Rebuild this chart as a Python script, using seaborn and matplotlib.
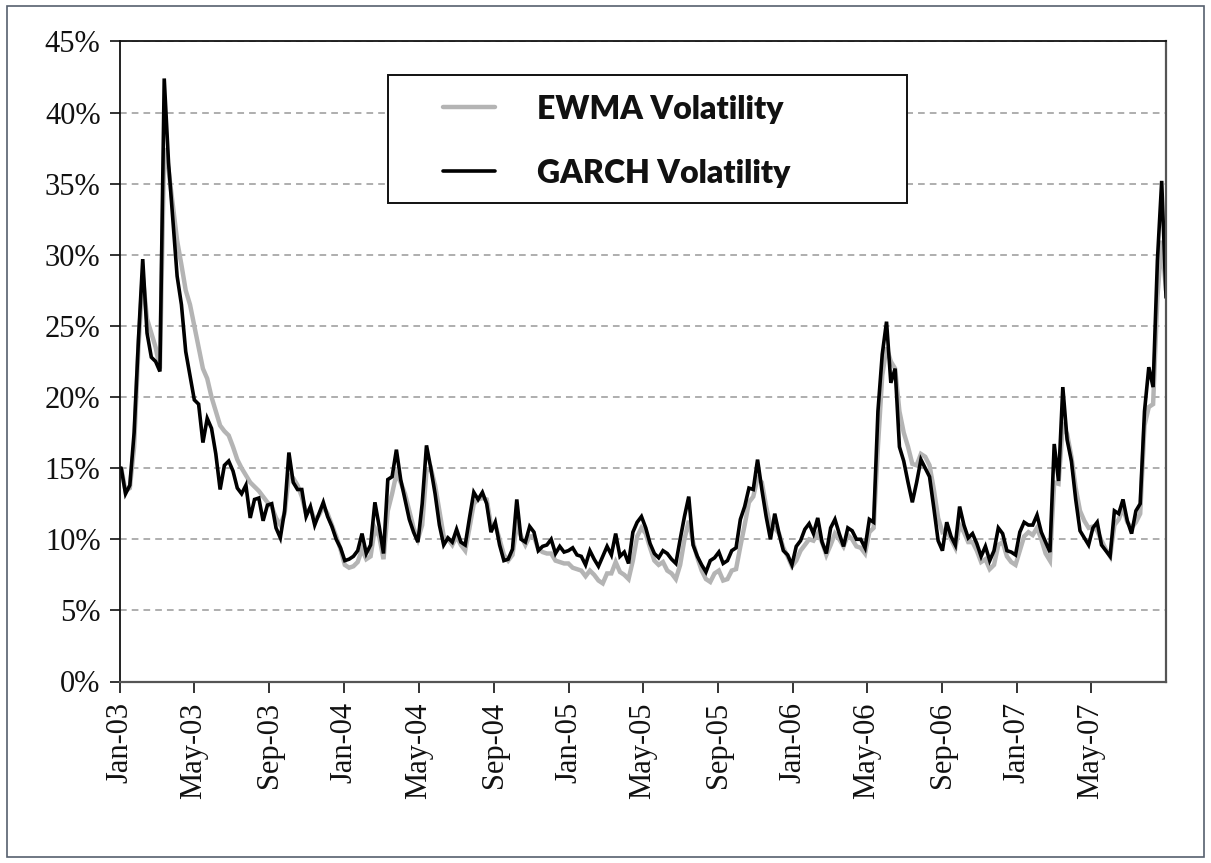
import numpy as np
import pandas as pd
import matplotlib
matplotlib.use("Agg")
import matplotlib.pyplot as plt
import matplotlib.dates as mdates
from matplotlib.ticker import FuncFormatter
from matplotlib.patches import Rectangle
from matplotlib.lines import Line2D
import seaborn as sns

# Weekly (Friday) observations, Jan 2003 - Aug 2007
weeks = pd.date_range("2003-01-03", "2007-08-31", freq="W-FRI")

# Annualised volatility, in percent
ewma_vol = [
    15.0, 13.4, 13.6, 16.5, 23.5, 28.5, 25.5, 24.5, 23.5, 22.0,
    37.5, 36.0, 33.5, 31.0, 29.3, 27.5, 26.5, 25.0, 23.5, 22.0,
    21.3, 20.0, 19.0, 18.0, 17.6, 17.3, 16.5, 15.6, 15.0, 14.5,
    14.0, 13.7, 13.4, 13.0, 12.6, 12.3, 11.5, 11.0, 11.8, 14.5,
    14.3, 13.8, 13.0, 11.8, 12.2, 11.3, 11.7, 12.3, 11.8, 11.0,
    10.2, 9.3, 8.2, 8.0, 8.1, 8.4, 9.3, 8.6, 8.8, 10.8,
    10.2, 8.6, 12.0, 13.2, 14.6, 14.0, 13.2, 12.0, 10.8, 10.0,
    11.0, 14.8, 15.0, 13.8, 12.0, 10.2, 10.0, 9.6, 10.2, 9.6,
    9.2, 10.8, 12.5, 12.8, 12.9, 12.8, 11.0, 11.0, 10.0, 8.9,
    8.5, 8.9, 11.0, 10.2, 9.6, 10.2, 10.2, 9.3, 9.1, 9.0,
    9.0, 8.5, 8.4, 8.3, 8.3, 8.0, 7.9, 7.8, 7.4, 7.8,
    7.5, 7.1, 6.9, 7.6, 7.6, 8.4, 7.7, 7.5, 7.2, 8.5,
    10.2, 10.8, 10.4, 9.4, 8.5, 8.2, 8.4, 7.8, 7.6, 7.2,
    8.2, 10.0, 11.3, 9.8, 8.7, 7.8, 7.2, 7.0, 7.6, 7.8,
    7.1, 7.2, 7.8, 7.9, 9.5, 11.0, 12.6, 13.0, 14.3, 14.0,
    12.3, 10.9, 10.8, 10.4, 9.4, 8.8, 8.1, 8.5, 9.2, 9.6,
    10.0, 9.9, 10.4, 9.8, 8.9, 9.6, 10.4, 10.0, 9.5, 10.3,
    10.0, 9.5, 9.4, 9.0, 10.5, 10.8, 16.5, 21.5, 23.5, 22.5,
    22.0, 19.0, 17.5, 16.5, 15.3, 15.2, 16.0, 15.8, 15.2, 13.5,
    11.5, 10.5, 10.6, 10.0, 9.4, 11.0, 10.5, 9.8, 9.8, 9.2,
    8.4, 8.6, 7.9, 8.2, 9.6, 9.8, 8.8, 8.4, 8.2, 9.2,
    10.2, 10.5, 10.3, 10.8, 10.0, 9.0, 8.5, 14.0, 13.9, 18.0,
    17.4, 15.8, 13.6, 12.0, 11.3, 10.8, 10.9, 10.6, 9.9, 9.3,
    8.8, 11.0, 11.4, 12.2, 11.2, 10.8, 11.2, 11.8, 18.0, 19.3,
    19.5, 27.0, 31.0, 27.5,
]

garch_vol = [
    15.0, 13.2, 13.8, 17.5, 24.0, 29.7, 24.5, 22.8, 22.5, 21.8,
    42.4, 36.5, 32.5, 28.5, 26.5, 23.2, 21.5, 19.8, 19.5, 16.8,
    18.5, 17.8, 16.0, 13.5, 15.2, 15.5, 14.8, 13.6, 13.2, 13.8,
    11.5, 12.8, 12.9, 11.3, 12.4, 12.5, 10.8, 10.1, 12.0, 16.1,
    14.0, 13.5, 13.5, 11.6, 12.3, 11.0, 11.8, 12.6, 11.6, 10.9,
    10.0, 9.4, 8.5, 8.6, 8.8, 9.2, 10.4, 9.0, 9.6, 12.6,
    10.9, 9.0, 14.2, 14.4, 16.3, 14.2, 12.8, 11.4, 10.5, 9.8,
    12.5, 16.6, 15.0, 13.2, 11.0, 9.6, 10.1, 9.8, 10.7, 9.8,
    9.6, 11.5, 13.3, 12.8, 13.3, 12.5, 10.5, 11.2, 9.6, 8.5,
    8.6, 9.3, 12.8, 10.0, 9.8, 10.9, 10.5, 9.2, 9.5, 9.6,
    10.0, 9.0, 9.5, 9.1, 9.2, 9.4, 8.9, 8.8, 8.2, 9.2,
    8.6, 8.1, 8.8, 9.5, 8.9, 10.4, 8.8, 9.1, 8.3, 10.5,
    11.2, 11.6, 10.8, 9.7, 9.0, 8.7, 9.2, 9.0, 8.6, 8.3,
    10.0, 11.6, 13.0, 9.6, 8.8, 8.2, 7.7, 8.5, 8.7, 9.1,
    8.3, 8.5, 9.2, 9.4, 11.4, 12.3, 13.6, 13.5, 15.6, 13.5,
    11.6, 10.0, 11.8, 10.4, 9.2, 8.9, 8.2, 9.5, 9.9, 10.7,
    11.1, 10.4, 11.5, 9.8, 9.0, 10.8, 11.4, 10.4, 9.5, 10.8,
    10.6, 10.0, 10.0, 9.4, 11.4, 11.2, 19.0, 23.0, 25.3, 21.0,
    22.0, 16.5, 15.5, 14.0, 12.6, 14.0, 15.6, 15.0, 14.4, 12.2,
    9.9, 9.2, 11.2, 10.2, 9.6, 12.3, 11.0, 10.1, 10.4, 9.7,
    8.8, 9.5, 8.5, 9.2, 10.8, 10.4, 9.2, 9.1, 8.9, 10.5,
    11.2, 11.0, 11.0, 11.7, 10.5, 9.8, 9.1, 16.7, 14.1, 20.7,
    17.0, 15.5, 12.8, 10.6, 10.1, 9.6, 10.8, 11.2, 9.6, 9.2,
    8.8, 12.0, 11.8, 12.8, 11.3, 10.4, 12.0, 12.5, 19.0, 22.1,
    20.7, 29.6, 35.2, 27.0,
]

series_names = ["EWMA Volatility", "GARCH Volatility"]
series_colors = ["#b4b4b4", "#000000"]
series_widths = [3.2, 2.6]
y_ticks = list(range(0, 50, 5))

sns.set_theme(style="ticks")
plt.rcParams["font.family"] = ["Liberation Serif", "DejaVu Serif"]

df = pd.DataFrame({
    "date": np.tile(weeks, 2),
    "vol": np.concatenate([ewma_vol, garch_vol]),
    "series": np.repeat(series_names, len(weeks)),
})

fig = plt.figure(figsize=(12.11, 8.63), dpi=100)
fig.patch.set_facecolor("white")
ax = fig.add_axes([120 / 1211, 1 - 681.5 / 863, 1046 / 1211, 640 / 863])

for name, color, lw in zip(series_names, series_colors, series_widths):
    sns.lineplot(data=df[df["series"] == name], x="date", y="vol",
                 color=color, linewidth=lw, ax=ax, legend=False,
                 estimator=None, solid_joinstyle="miter")

ax.set_xlim(pd.Timestamp("2003-01-01"), pd.Timestamp("2007-08-31"))
ax.set_ylim(0, 45)
ax.set_yticks(y_ticks)
ax.yaxis.set_major_formatter(FuncFormatter(lambda v, _: f"{v:.0f}%"))
ax.xaxis.set_major_locator(mdates.MonthLocator(bymonth=[1, 5, 9]))
ax.xaxis.set_major_formatter(mdates.DateFormatter("%b-%y"))
ax.set_xlabel("")
ax.set_ylabel("")

ax.set_axisbelow(True)
ax.yaxis.grid(True, color="#a8a8a8", linestyle=(0, (3.7, 2.8)), linewidth=1.3)
ax.xaxis.grid(False)

ax.tick_params(axis="y", direction="out", length=7, width=1.2, pad=7,
               labelsize=22, colors="#111111")
ax.tick_params(axis="x", direction="out", length=8, width=1.2, pad=7,
               labelsize=22, colors="#111111", labelrotation=90)
for lab in ax.get_xticklabels():
    lab.set_va("top")
    lab.set_ha("center")

for side in ["top", "left"]:
    ax.spines[side].set_color("#111111")
    ax.spines[side].set_linewidth(1.3)
for side in ["right", "bottom"]:
    ax.spines[side].set_color("#555555")
    ax.spines[side].set_linewidth(1.6)

# Legend box
fig.patches.append(Rectangle((388 / 1211, 1 - 203 / 863), 519 / 1211, 128 / 863,
                             transform=fig.transFigure, facecolor="white",
                             edgecolor="#111111", linewidth=1.4, zorder=5))
legend_rows = [107.5, 171.0]
for name, color, lw, yrow in zip(series_names, series_colors, series_widths, legend_rows):
    fig.lines.append(Line2D([443 / 1211, 495 / 1211], [1 - yrow / 863] * 2,
                            transform=fig.transFigure, color=color,
                            linewidth=lw, zorder=6))
    fig.text(537 / 1211, 1 - (yrow + 12) / 863, name, family=["Lato", "DejaVu Sans"],
             fontweight="heavy", fontsize=23, color="#111111", va="baseline",
             ha="left", zorder=6)

# Outer frame
fig.patches.append(Rectangle((6.5 / 1211, 1 - 857 / 863), 1197.5 / 1211, 850.5 / 863,
                             transform=fig.transFigure, facecolor="none",
                             edgecolor="#56606e", linewidth=1.2, zorder=0))

fig.savefig("out.png", dpi=100)
